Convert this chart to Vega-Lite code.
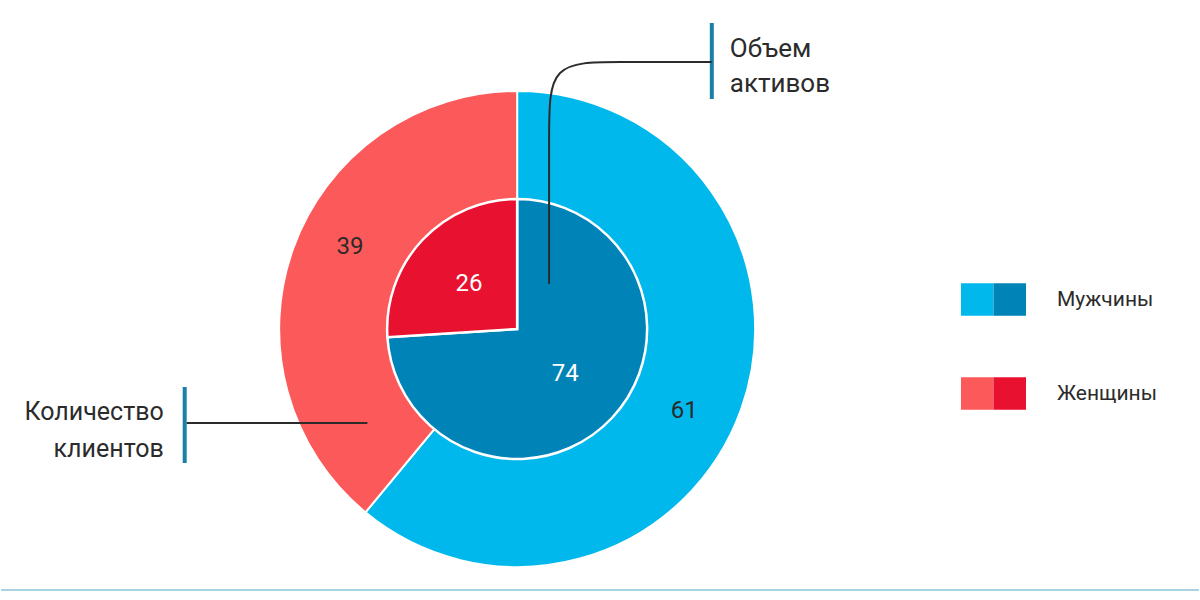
{
  "$schema": "https://vega.github.io/schema/vega-lite/v6.json",
  "width": 1200,
  "height": 600,
  "padding": 0,
  "autosize": {"type": "fit", "contains": "padding"},
  "background": "white",
  "config": {"view": {"stroke": null}, "font": "Roboto"},
  "datasets": {
    "shares": [
      {"metric": "Количество клиентов", "sex": "Мужчины", "value": 61},
      {"metric": "Количество клиентов", "sex": "Женщины", "value": 39},
      {"metric": "Объем активов", "sex": "Мужчины", "value": 74},
      {"metric": "Объем активов", "sex": "Женщины", "value": 26}
    ],
    "connector": [
      {"step": 1, "px": 712, "py": 62},
      {"step": 2, "px": 615, "py": 62},
      {"step": 3, "px": 549, "py": 62},
      {"step": 4, "px": 549, "py": 128},
      {"step": 5, "px": 549, "py": 284}
    ]
  },
  "layer": [
    {
      "data": {"name": "shares"},
      "transform": [{"filter": "datum.metric === 'Количество клиентов'"}],
      "mark": {"type": "arc", "outerRadius": 238, "stroke": "white", "strokeWidth": 2},
      "encoding": {
        "x": {"datum": 517, "type": "quantitative", "scale": {"domain": [0, 1200], "nice": false, "zero": false}, "axis": null},
        "y": {"datum": 329, "type": "quantitative", "scale": {"domain": [0, 600], "nice": false, "zero": false, "reverse": true}, "axis": null},
        "theta": {"field": "value", "type": "quantitative", "stack": true},
        "order": {"field": "sex", "type": "nominal", "sort": "descending"},
        "color": {
          "field": "sex", "type": "nominal",
          "scale": {"domain": ["Мужчины", "Женщины"], "range": ["#00b8ec", "#fc5a5a"]},
          "legend": {
            "title": null, "orient": "none", "legendX": 960, "legendY": 267, "direction": "vertical",
            "symbolType": "M-1,-0.5H0V0.5H-1Z", "symbolSize": 4225, "symbolStrokeWidth": 0, "symbolOpacity": 1,
            "labelFont": "Roboto", "labelFontSize": 21, "labelColor": "#2b2b2b", "labelOffset": 31,
            "rowPadding": 45, "padding": 0
          }
        }
      }
    },
    {
      "data": {"name": "shares"},
      "transform": [{"filter": "datum.metric === 'Объем активов'"}],
      "mark": {"type": "arc", "outerRadius": 130, "stroke": "white", "strokeWidth": 2.5},
      "encoding": {
        "x": {"datum": 517, "type": "quantitative", "scale": {"domain": [0, 1200], "nice": false, "zero": false}, "axis": null},
        "y": {"datum": 329, "type": "quantitative", "scale": {"domain": [0, 600], "nice": false, "zero": false, "reverse": true}, "axis": null},
        "theta": {"field": "value", "type": "quantitative", "stack": true},
        "order": {"field": "sex", "type": "nominal", "sort": "descending"},
        "color": {
          "field": "sex", "type": "nominal",
          "scale": {"domain": ["Мужчины", "Женщины"], "range": ["#0083b7", "#e8112f"]},
          "legend": {
            "title": null, "orient": "none", "legendX": 960, "legendY": 267, "direction": "vertical",
            "symbolType": "M0,-0.5H1V0.5H0Z", "symbolSize": 4225, "symbolStrokeWidth": 0, "symbolOpacity": 1,
            "labelExpr": "''", "labelFontSize": 21, "labelOffset": 31,
            "rowPadding": 45, "padding": 0
          }
        }
      }
    },
    {
      "data": {"name": "shares"},
      "transform": [{"filter": "datum.metric === 'Количество клиентов'"}],
      "mark": {"type": "text", "radius": 186, "thetaOffset": 0.11, "fontSize": 24, "fill": "#2b2b2b", "font": "Roboto"},
      "encoding": {
        "x": {"datum": 517, "type": "quantitative", "scale": {"domain": [0, 1200], "nice": false, "zero": false}, "axis": null},
        "y": {"datum": 329, "type": "quantitative", "scale": {"domain": [0, 600], "nice": false, "zero": false, "reverse": true}, "axis": null},
        "theta": {"field": "value", "type": "quantitative", "stack": true},
        "order": {"field": "sex", "type": "nominal", "sort": "descending"},
        "text": {"field": "value", "type": "quantitative"}
      }
    },
    {
      "data": {"name": "shares"},
      "transform": [{"filter": "datum.metric === 'Объем активов'"}],
      "mark": {"type": "text", "radius": 66, "fontSize": 24, "fill": "white", "font": "Roboto"},
      "encoding": {
        "x": {"datum": 517, "type": "quantitative", "scale": {"domain": [0, 1200], "nice": false, "zero": false}, "axis": null},
        "y": {"datum": 329, "type": "quantitative", "scale": {"domain": [0, 600], "nice": false, "zero": false, "reverse": true}, "axis": null},
        "theta": {"field": "value", "type": "quantitative", "stack": true},
        "order": {"field": "sex", "type": "nominal", "sort": "descending"},
        "text": {"field": "value", "type": "quantitative"}
      }
    },
    {
      "data": {"values": [{}]},
      "mark": {"type": "rule", "stroke": "#a8d3df", "strokeWidth": 2},
      "encoding": {
        "x": {"datum": 0, "type": "quantitative"},
        "x2": {"datum": 1200},
        "y": {"datum": 590, "type": "quantitative"}
      }
    },
    {
      "data": {"values": [{}]},
      "mark": {"type": "rule", "stroke": "#1a80a8", "strokeWidth": 4},
      "encoding": {
        "x": {"datum": 712, "type": "quantitative"},
        "y": {"datum": 23, "type": "quantitative"},
        "y2": {"datum": 99}
      }
    },
    {
      "data": {"values": [{}]},
      "mark": {"type": "rule", "stroke": "#1a80a8", "strokeWidth": 4},
      "encoding": {
        "x": {"datum": 184, "type": "quantitative"},
        "y": {"datum": 387, "type": "quantitative"},
        "y2": {"datum": 463}
      }
    },
    {
      "data": {"values": [{}]},
      "mark": {"type": "rule", "stroke": "#2b2b2b", "strokeWidth": 2},
      "encoding": {
        "x": {"datum": 186, "type": "quantitative"},
        "x2": {"datum": 367},
        "y": {"datum": 423, "type": "quantitative"}
      }
    },
    {
      "data": {"name": "connector"},
      "mark": {"type": "line", "interpolate": "basis", "stroke": "#2b2b2b", "strokeWidth": 2},
      "encoding": {
        "x": {"field": "px", "type": "quantitative"},
        "y": {"field": "py", "type": "quantitative"},
        "order": {"field": "step", "type": "quantitative"}
      }
    },
    {
      "data": {"values": [{}]},
      "mark": {"type": "text", "align": "left", "baseline": "alphabetic", "fontSize": 26, "lineHeight": 35, "fill": "#2b2b2b", "font": "Roboto"},
      "encoding": {
        "x": {"datum": 730, "type": "quantitative"},
        "y": {"datum": 57, "type": "quantitative"},
        "text": {"value": ["Объем", "активов"]}
      }
    },
    {
      "data": {"values": [{}]},
      "mark": {"type": "text", "align": "right", "baseline": "alphabetic", "fontSize": 25, "lineHeight": 37, "fill": "#2b2b2b", "font": "Roboto"},
      "encoding": {
        "x": {"datum": 163, "type": "quantitative"},
        "y": {"datum": 420, "type": "quantitative"},
        "text": {"value": ["Количество", "клиентов"]}
      }
    }
  ],
  "resolve": {"scale": {"color": "independent"}, "legend": {"color": "independent"}}
}
